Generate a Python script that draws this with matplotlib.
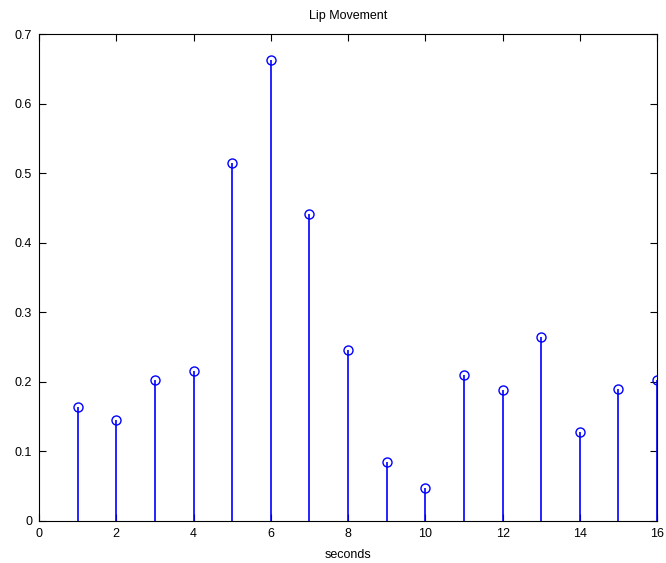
import matplotlib
matplotlib.use("Agg")
import matplotlib.pyplot as plt

seconds = list(range(1, 17))
movement = [0.163, 0.145, 0.202, 0.216, 0.515, 0.662, 0.441, 0.245,
            0.085, 0.047, 0.210, 0.188, 0.264, 0.127, 0.189, 0.202]
xticks = [0, 2, 4, 6, 8, 10, 12, 14, 16]
yticks = [0, 0.1, 0.2, 0.3, 0.4, 0.5, 0.6, 0.7]
ytick_labels = ["0", "0.1", "0.2", "0.3", "0.4", "0.5", "0.6", "0.7"]

plt.rcParams['font.family'] = ['Liberation Sans', 'DejaVu Sans']

fig = plt.figure(figsize=(6.66, 5.63), dpi=100)
ax = fig.add_axes([0.0586, 0.0751, 0.928, 0.8645])

markers, stems, base = ax.stem(seconds, movement, basefmt=" ")
plt.setp(stems, color="blue", linewidth=1.2)
plt.setp(markers, color="blue", marker="o", markerfacecolor="none",
         markersize=6.5, markeredgewidth=1.0)

ax.set_xlim(0, 16)
ax.set_ylim(0, 0.7)
ax.set_xticks(xticks)
ax.set_yticks(yticks)
ax.set_yticklabels(ytick_labels)
ax.tick_params(direction="in", top=True, right=True, labelsize=9,
               length=5, width=0.8, pad=5)
for s in ax.spines.values():
    s.set_linewidth(0.8)

ax.set_title("Lip Movement", fontsize=9, pad=11)
ax.set_xlabel("seconds", fontsize=9, labelpad=7)

fig.savefig("out.png", dpi=100)
